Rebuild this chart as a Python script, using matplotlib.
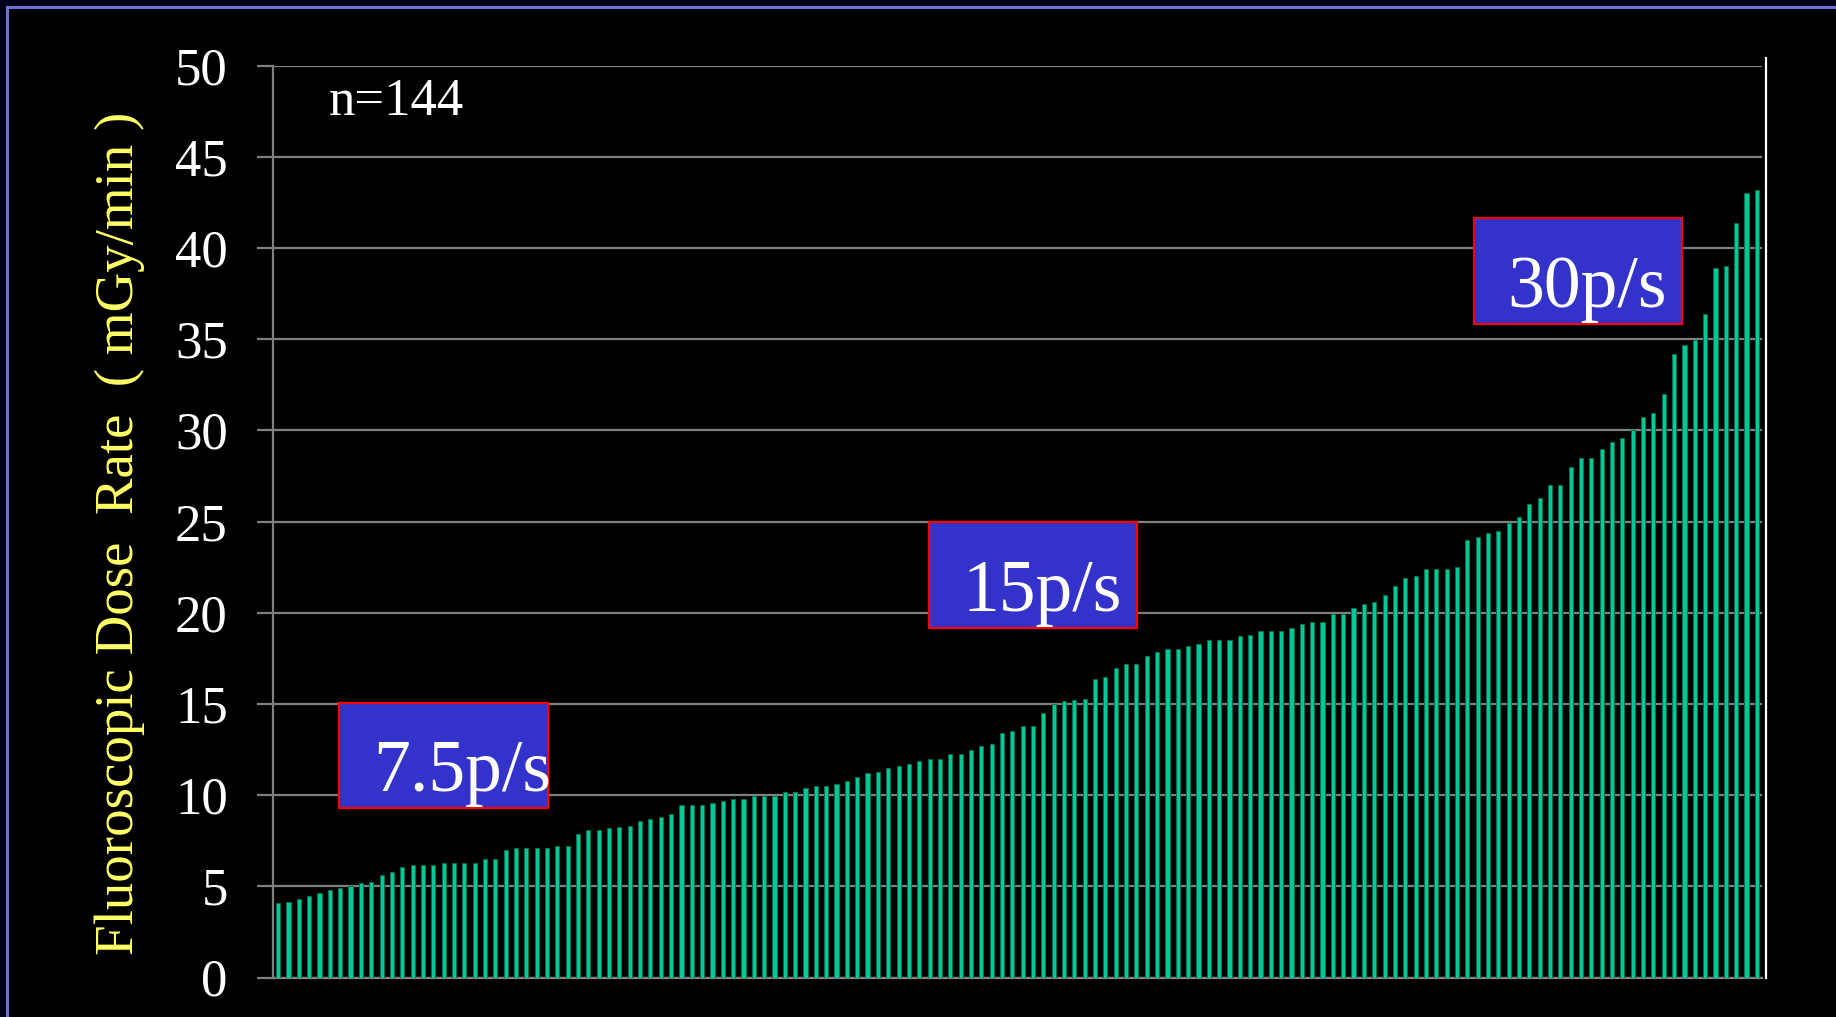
import numpy as np
import matplotlib
matplotlib.use("Agg")
from matplotlib import pyplot as plt
from matplotlib.patches import Rectangle
from matplotlib.lines import Line2D

# dose rate per case (mGy/min), sorted ascending, n=144
dose_rate = [
    4.07, 4.14, 4.29, 4.49, 4.62, 4.82, 4.89, 5.00, 5.17, 5.22,
    5.60, 5.77, 6.08, 6.17, 6.17, 6.17, 6.26, 6.28, 6.28, 6.30,
    6.48, 6.48, 6.99, 7.08, 7.08, 7.08,
    7.12, 7.19, 7.21, 7.89, 8.07, 8.07, 8.18, 8.24, 8.29, 8.58,
    8.68, 8.79, 8.99, 9.44, 9.48, 9.48, 9.59, 9.68, 9.79, 9.79,
    9.97, 9.97, 9.97, 10.16, 10.17,
    10.38, 10.49, 10.51, 10.60, 10.78, 10.98, 11.20, 11.26, 11.49, 11.60,
    11.69, 11.89, 12.00, 12.00, 12.26, 12.28, 12.48, 12.70, 12.79, 13.40,
    13.50, 13.78, 13.78, 14.49, 15.00,
    15.15, 15.22, 15.25, 16.37, 16.48, 16.99, 17.18, 17.18, 17.62, 17.84,
    18.00, 18.00, 18.18, 18.28, 18.50, 18.50, 18.50, 18.70, 18.77, 19.00,
    19.00, 19.00, 19.15, 19.39, 19.48,
    19.48, 19.96, 19.96, 20.28, 20.46, 20.59, 21.00, 21.45, 21.89, 22.00,
    22.39, 22.39, 22.39, 22.49, 23.97, 24.16, 24.40, 24.47, 24.95, 25.25,
    25.99, 26.29,
    26.98, 26.98, 27.98, 28.48, 28.48, 28.99, 29.39, 29.59, 30.00, 30.71,
    30.98, 31.99, 34.18, 34.70, 34.97, 36.40, 38.90, 38.99, 41.37, 43.02,
    43.20,
]
y_ticks = [0, 5, 10, 15, 20, 25, 30, 35, 40, 45, 50]
rate_labels = ["7.5p/s", "15p/s", "30p/s"]
# where each label box sits (left, bottom in data units)
box_left = [5.9, 62.9, 115.6]
box_bottom = [9.28, 19.17, 35.85]

serif = ["Liberation Serif", "DejaVu Serif"]
W, H = 1836, 1017

fig = plt.figure(figsize=(W / 100, H / 100), dpi=100)
fig.patch.set_facecolor("#00001a")
# black slide panel with lavender frame
panel = Rectangle((7 / W, -0.05), 1.1, 1 - 7 / H + 0.05, transform=fig.transFigure,
                  facecolor="black", edgecolor="#6f6fd8", lw=2.2, zorder=-5)
fig.patches.append(panel)

ax = fig.add_axes([273 / W, 1 - 977.5 / H, 1489 / W, 911.8 / H])
ax.set_zorder(2)
ax.set_facecolor("black")

x = np.arange(len(dose_rate))
ax.bar(x, dose_rate, width=0.4, color="#00c896", edgecolor="#00704f", linewidth=0.7, zorder=3)

ax.set_xlim(-0.5, len(dose_rate) - 0.5)
ax.set_ylim(0, 50)
ax.set_yticks(y_ticks)
ax.set_xticks([])
ax.yaxis.grid(True, color="#808080", lw=1.6, zorder=1)
ax.set_axisbelow(True)
for s in ["top", "right"]:
    ax.spines[s].set_visible(False)
for s in ["left", "bottom"]:
    ax.spines[s].set_color("#808080")
    ax.spines[s].set_linewidth(1.6)
ax.tick_params(axis="y", colors="#808080", length=11.5, width=1.6, pad=21, labelcolor="white")
for lab in ax.get_yticklabels():
    lab.set_family(serif)
    lab.set_fontsize(38)

# white wall edge on the right
fig.add_artist(Line2D([1765.7 / W, 1765.7 / W], [1 - 977.5 / H, 1 - 58 / H],
                      transform=fig.transFigure, color="white", lw=1.6, zorder=3))

ax.text(0.0376, 0.9457, "n=144", transform=ax.transAxes, color="white",
        family=serif, fontsize=38, va="baseline", ha="left")

fig.text(120 / W, 1 - 533 / H, "Fluoroscopic Dose  Rate  ( mGy/min )", rotation=90,
         color="#ffff66", family=serif, fontsize=39.5, ha="center", va="center", zorder=3)

bw, bh = 20.2, 5.8
for lab, bx, by in zip(rate_labels, box_left, box_bottom):
    ax.add_patch(Rectangle((bx, by), bw, bh, facecolor="#3333cc", edgecolor="#ff0000",
                           lw=1.6, zorder=5))
    ax.text(bx + 3.29, by + 0.93, lab, color="white", family=serif, fontsize=53,
            ha="left", va="baseline", zorder=6)

fig.savefig("out.png", dpi=100, facecolor=fig.get_facecolor())
